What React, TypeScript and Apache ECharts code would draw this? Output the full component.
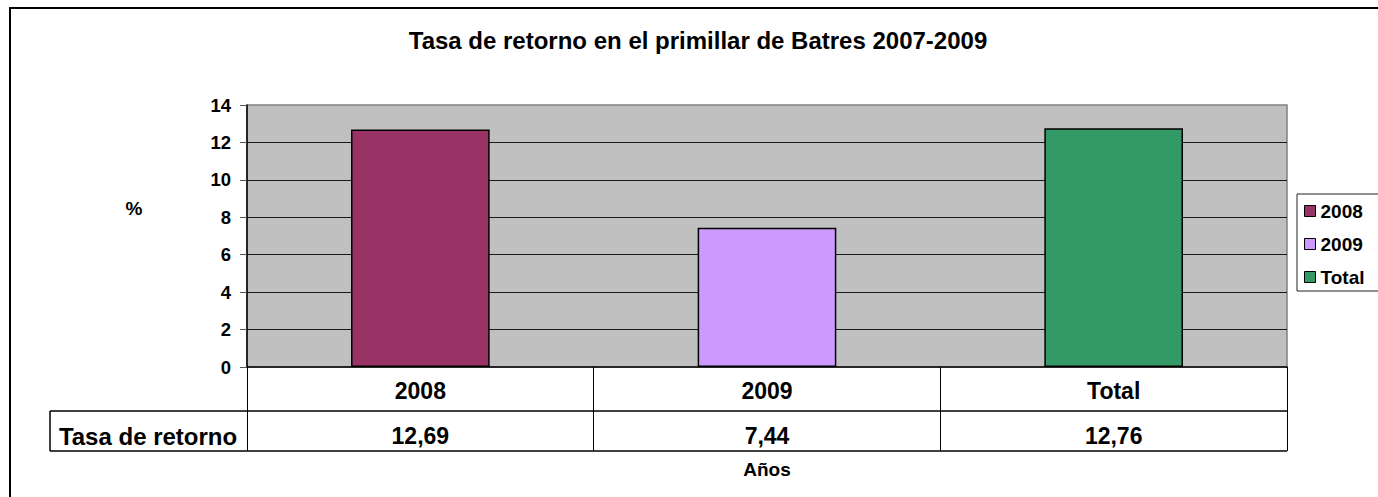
import React, { useEffect, useRef } from "react";
import * as echarts from "echarts";

const categories = ["2008", "2009", "Total"];
const values = [12.69, 7.44, 12.76];
const seriesColors = ["#993366", "#CC99FF", "#339966"];
const titleText = "Tasa de retorno en el primillar de Batres 2007-2009";
const rowLabel = "Tasa de retorno";
const yAxisLabel = "%";
const xAxisLabel = "Años";
const yMin = 0;
const yMax = 14;
const yInterval = 2;

const FONT = '"Liberation Sans", Arial, Helvetica, sans-serif';
const fmt = (v: number) => v.toFixed(2).replace(".", ",");

export default function App() {
  const ref = useRef<HTMLDivElement>(null);
  useEffect(() => {
    if (!ref.current) return;
    const chart = echarts.init(ref.current, undefined, { renderer: "svg" });
    const gridLeft = 247;
    const gridTop = 105;
    const gridWidth = 1040;
    const gridHeight = 262;
    const gridRight = gridLeft + gridWidth;
    const gridBottom = gridTop + gridHeight;
    const row1 = 44;
    const row2 = 40;
    const option: any = {
      animation: false,
      backgroundColor: "#ffffff",
      textStyle: { fontFamily: FONT },
      title: {
        text: titleText,
        left: 698,
        top: 28,
        textAlign: "center",
        padding: 0,
        textStyle: { fontSize: 24, fontWeight: "bold", color: "#000", fontFamily: FONT, lineHeight: 24 },
      },
      legend: {
        data: categories,
        orient: "vertical",
        left: 1297,
        top: 194,
        padding: [7, 18, 4, 7],
        itemWidth: 11,
        itemHeight: 11,
        itemGap: 13,
        icon: "rect",
        backgroundColor: "#ffffff",
        borderColor: "#222",
        borderWidth: 1,
        itemStyle: { borderColor: "#000", borderWidth: 1 },
        textStyle: { fontSize: 19, fontWeight: "bold", color: "#000", fontFamily: FONT, lineHeight: 20 },
      },
      grid: {
        left: gridLeft,
        top: gridTop,
        width: gridWidth,
        height: gridHeight,
        show: true,
        backgroundColor: "#C0C0C0",
        borderColor: "#808080",
        borderWidth: 1.5,
        containLabel: false,
      },
      xAxis: {
        type: "category",
        data: categories,
        boundaryGap: true,
        axisLine: { show: true, lineStyle: { color: "#000", width: 1.5 } },
        axisTick: { show: true, length: row1 + row2, lineStyle: { color: "#000", width: 1 } },
        axisLabel: {
          interval: 0,
          margin: 2,
          formatter: (v: string, idx: number) => `{a|${v}}\n{b|${fmt(values[idx])}}`,
          rich: {
            a: { fontSize: 23, fontWeight: "bold", color: "#000", fontFamily: FONT, lineHeight: 44 },
            b: { fontSize: 23, fontWeight: "bold", color: "#000", fontFamily: FONT, lineHeight: 46 },
          },
        },
        name: xAxisLabel,
        nameLocation: "middle",
        nameGap: 93,
        nameTextStyle: { fontSize: 19, fontWeight: "bold", color: "#000", fontFamily: FONT },
      },
      yAxis: {
        type: "value",
        min: yMin,
        max: yMax,
        interval: yInterval,
        axisLine: { show: true, lineStyle: { color: "#000", width: 1.5 } },
        axisTick: { show: true, length: 7, lineStyle: { color: "#555" } },
        axisLabel: { margin: 16, fontSize: 18.5, fontWeight: "bold", color: "#000", fontFamily: FONT },
        splitLine: { show: true, showMinLine: false, showMaxLine: false, lineStyle: { color: "#1a1a1a", width: 1 } },
      },
      series: categories.map((name, i) => ({
        name,
        type: "bar",
        stack: "total",
        barWidth: "40%",
        data: values.map((v, j) => (j === i ? v : "-")),
        itemStyle: { color: seriesColors[i], borderColor: "#000", borderWidth: 1.5 },
      })),
      graphic: [
        {
          type: "rect",
          silent: true,
          shape: { x: 10, y: 8, width: 1400, height: 520 },
          style: { fill: "none", stroke: "#000", lineWidth: 2 },
          z: 100,
        },
        {
          type: "text",
          x: 134,
          y: 208,
          style: { text: yAxisLabel, fontSize: 19, fontWeight: "bold", fill: "#000", fontFamily: FONT, align: "center", verticalAlign: "middle" },
        },
        {
          type: "text",
          x: 148,
          y: gridBottom + row1 + row2 / 2 + 5,
          style: { text: rowLabel, fontSize: 24, fontWeight: "bold", fill: "#000", fontFamily: FONT, align: "center", verticalAlign: "middle" },
        },
        {
          type: "line",
          shape: { x1: 50, y1: gridBottom + row1, x2: gridRight, y2: gridBottom + row1 },
          style: { stroke: "#000", lineWidth: 1.5 },
        },
        {
          type: "line",
          shape: { x1: 50, y1: gridBottom + row1 + row2, x2: gridRight, y2: gridBottom + row1 + row2 },
          style: { stroke: "#000", lineWidth: 1.5 },
        },
        {
          type: "line",
          shape: { x1: 50, y1: gridBottom + row1, x2: 50, y2: gridBottom + row1 + row2 },
          style: { stroke: "#000", lineWidth: 1.5 },
        },
      ],
    };
    chart.setOption(option);
    return () => chart.dispose();
  }, []);
  return (
    <div
      ref={ref}
      style={{ position: "fixed", left: 0, top: 0, width: 1378, height: 497, background: "#fff" }}
    />
  );
}
